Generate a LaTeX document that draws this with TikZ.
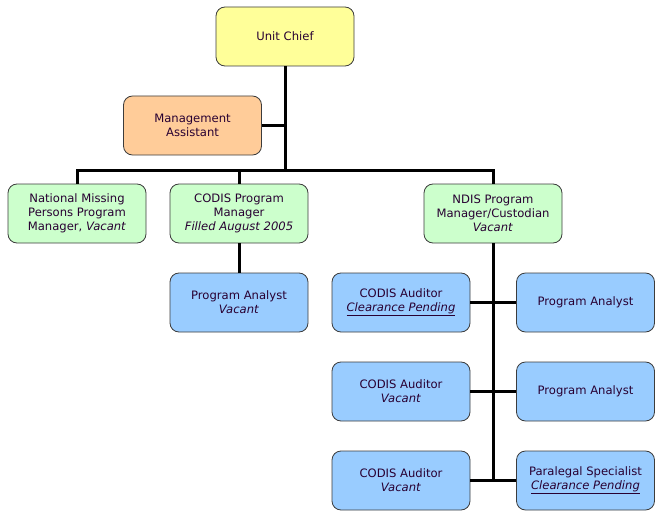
\documentclass[tikz,border=0pt]{standalone}
\usepackage{fontspec}
\setmainfont{DejaVu Sans}
\definecolor{chiefyellow}{RGB}{255,255,153}
\definecolor{assistorange}{RGB}{255,204,153}
\definecolor{mgrgreen}{RGB}{204,255,204}
\definecolor{staffblue}{RGB}{153,204,255}
\definecolor{boxedge}{RGB}{60,60,60}
\definecolor{labeltext}{RGB}{40,0,50}
\begin{document}
\begin{tikzpicture}[
    x=1pt, y=-1pt,
    every node/.style={rectangle, rounded corners=9pt, draw=boxedge, line width=0.8pt,
        minimum width=138pt, minimum height=59pt, align=center, inner sep=1pt,
        font=\fontsize{11.6}{14}\selectfont, text=labeltext},
    chiefbox/.style={fill=chiefyellow},
    assistbox/.style={fill=assistorange},
    mgrbox/.style={fill=mgrgreen},
    staffbox/.style={fill=staffblue},
    link/.style={line width=3pt}
]
\useasboundingbox (0,0) rectangle (662,519);

% ================= top =================

\node[chiefbox] (chief) at (285,36.5) {Unit Chief};
\node[assistbox] (assist) at (192.5,125.5) {Management\\Assistant};
\coordinate (bus) at (285,170);

% ================= managers =================

\node[mgrbox] (missing) at (77,213.5) {National Missing\\Persons Program\\Manager, \textit{Vacant}};
\node[mgrbox] (codismgr) at (239,213.5) {CODIS Program\\Manager\\\textit{Filled August 2005}};
\node[mgrbox] (ndis) at (493,213.5) {NDIS Program\\Manager/Custodian\\\textit{Vacant}};

% ================= staff =================

\node[staffbox] (analyst) at (239,302.5) {Program Analyst\\\textit{Vacant}};

\node[staffbox] (auditA) at (401,302.5) {CODIS Auditor\\\underline{\textit{Clearance Pending}}};
\node[staffbox] (auditB) at (401,391.5) {CODIS Auditor\\\textit{Vacant}};
\node[staffbox] (auditC) at (401,480.5) {CODIS Auditor\\\textit{Vacant}};

\node[staffbox] (analystA) at (585.5,302.5) {Program Analyst};
\node[staffbox] (analystB) at (585.5,391.5) {Program Analyst};
\node[staffbox] (paralegal) at (585.5,480.5) {Paralegal Specialist\\\underline{\textit{Clearance Pending}}};

% ================= links =================

\draw[link] (chief.south) -- (bus);
\draw[link] (assist.east) -- (assist.east -| bus);
\draw[link] (missing.north) |- (bus);
\draw[link] (codismgr.north) |- (bus);
\draw[link] (ndis.north) |- (bus);
\draw[link] (codismgr.south) -- (analyst.north);
\draw[link] (ndis.south) -- (ndis.south |- auditC.east);
\draw[link] (auditA.east) -- (analystA.west);
\draw[link] (auditB.east) -- (analystB.west);
\draw[link] (auditC.east) -- (paralegal.west);

\end{tikzpicture}
\end{document}
